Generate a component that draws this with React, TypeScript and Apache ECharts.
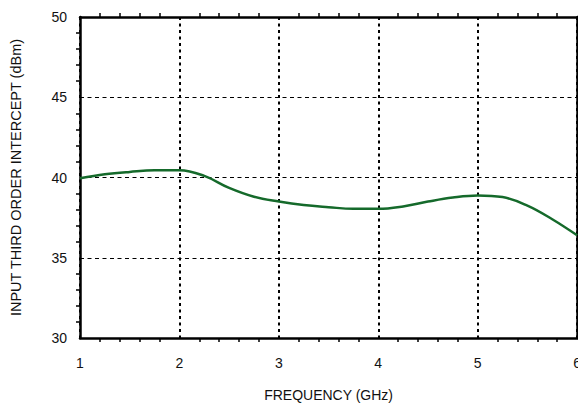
import React, { useEffect, useRef } from "react";
import * as echarts from "echarts";

const freqGHz = [1, 1.25, 1.5, 1.75, 2, 2.25, 2.5, 2.75, 3, 3.25, 3.5, 3.75, 4, 4.25, 4.5, 4.75, 5, 5.25, 5.5, 5.75, 6];
const iip3dBm = [39.95, 40.2, 40.35, 40.45, 40.45, 40.1, 39.35, 38.8, 38.5, 38.28, 38.15, 38.05, 38.05, 38.2, 38.5, 38.75, 38.88, 38.78, 38.25, 37.4, 36.4];
const xTitle = "FREQUENCY (GHz)";
const yTitle = "INPUT THIRD ORDER INTERCEPT (dBm)";

const FONT = "'Liberation Sans', Arial, Helvetica, sans-serif";

export default function App() {
  const ref = useRef<HTMLDivElement>(null);
  useEffect(() => {
    if (!ref.current) return;
    const chart = echarts.init(ref.current, undefined, { renderer: "svg" });
    const minorTick = { show: true, splitNumber: 5, length: 4, lineStyle: { color: "#000", width: 1.5 } };
    const axisLine = { show: true, lineStyle: { color: "#000", width: 2.5 } };
    chart.setOption({
      animation: false,
      backgroundColor: "#fff",
      grid: { left: 76, top: 17, right: 4.5, bottom: 65 },
      xAxis: [
        {
          type: "value", min: 1, max: 6, interval: 1, position: "bottom",
          axisLine, axisTick: { show: false }, minorTick,
          axisLabel: { color: "#111", fontSize: 14, fontFamily: FONT, margin: 18 },
          splitLine: { show: true, lineStyle: { color: "#000", width: 2, type: [3, 3.5] } },
          name: xTitle, nameLocation: "middle", nameGap: 50,
          nameTextStyle: { color: "#111", fontSize: 14, fontFamily: FONT },
        },
        {
          type: "value", min: 1, max: 6, interval: 1, position: "top",
          axisLine, axisTick: { show: false }, minorTick, axisLabel: { show: false },
          splitLine: { show: false },
        },
      ],
      yAxis: [
        {
          type: "value", min: 30, max: 50, interval: 5, position: "left",
          axisLine, axisTick: { show: false }, minorTick,
          axisLabel: { color: "#111", fontSize: 14, fontFamily: FONT, margin: 13 },
          splitLine: { show: true, lineStyle: { color: "#000", width: 1, type: [4, 3.5] } },
          name: yTitle, nameLocation: "middle", nameGap: 57,
          nameTextStyle: { color: "#111", fontSize: 14.5, fontFamily: FONT },
        },
        {
          type: "value", min: 30, max: 50, interval: 5, position: "right",
          axisLine, axisTick: { show: false }, minorTick, axisLabel: { show: false },
          splitLine: { show: false },
        },
      ],
      series: [
        {
          type: "line",
          data: freqGHz.map((f, i) => [f, iip3dBm[i]]),
          smooth: 0.4,
          showSymbol: false,
          lineStyle: { color: "#156a2b", width: 2.5 },
          z: 5,
        },
      ],
    });
    return () => chart.dispose();
  }, []);
  return (
    <div style={{ position: "fixed", left: 0, top: 0, width: 578, height: 407, overflow: "hidden", background: "#fff" }}>
      <div ref={ref} style={{ width: 584, height: 407 }} />
    </div>
  );
}
